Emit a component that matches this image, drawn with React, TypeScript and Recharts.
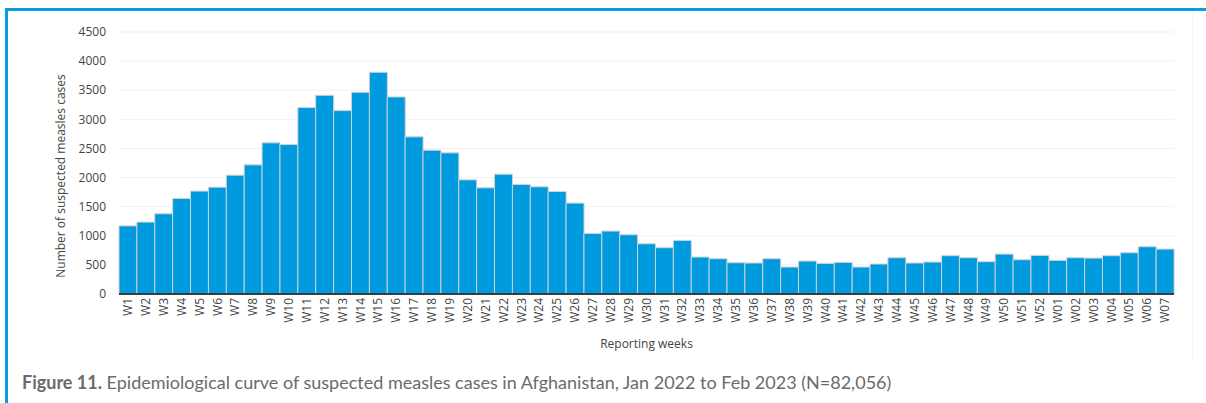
import { BarChart, Bar, XAxis, YAxis, CartesianGrid, Label } from 'recharts';

const weeks = [
  'W1', 'W2', 'W3', 'W4', 'W5', 'W6', 'W7', 'W8', 'W9', 'W10',
  'W11', 'W12', 'W13', 'W14', 'W15', 'W16', 'W17', 'W18', 'W19', 'W20',
  'W21', 'W22', 'W23', 'W24', 'W25', 'W26', 'W27', 'W28', 'W29', 'W30',
  'W31', 'W32', 'W33', 'W34', 'W35', 'W36', 'W37', 'W38', 'W39', 'W40',
  'W41', 'W42', 'W43', 'W44', 'W45', 'W46', 'W47', 'W48', 'W49', 'W50',
  'W51', 'W52', 'W01', 'W02', 'W03', 'W04', 'W05', 'W06', 'W07',
];

const cases = [
  1170, 1235, 1378, 1641, 1767, 1835, 2041, 2218, 2596, 2567,
  3202, 3413, 3150, 3465, 3808, 3385, 2699, 2470, 2424, 1961,
  1824, 2058, 1881, 1841, 1761, 1561, 1041, 1081, 1018, 863,
  795, 921, 635, 606, 537, 532, 606, 463, 566, 526,
  543, 463, 515, 623, 532, 549, 658, 623, 555, 686,
  589, 663, 577, 623, 617, 658, 709, 812, 772,
];

const yTicks = [0, 500, 1000, 1500, 2000, 2500, 3000, 3500, 4000, 4500];

const data = weeks.map((week, i) => ({ week, cases: cases[i] }));

const axisFont = '"Open Sans", sans-serif';

function WeekTick({ x, y, payload }: any) {
  return (
    <g transform={`translate(${x},${y})`}>
      <text transform="rotate(-90)" textAnchor="end" dy="0.35em" fill="#444" fontSize={12} fontFamily={axisFont}>
        {payload.value}
      </text>
    </g>
  );
}

function YTitle({ viewBox }: any) {
  const vb = viewBox || { x: 0, y: 32, width: 119, height: 262 };
  const cx = vb.x + 60;
  const cy = vb.y + vb.height / 2 + 13;
  return (
    <text
      x={cx}
      y={cy}
      transform={`rotate(-90 ${cx} ${cy})`}
      textAnchor="middle"
      dominantBaseline="central"
      fill="#444"
      fontSize={12}
      fontFamily={axisFont}
    >
      Number of suspected measles cases
    </text>
  );
}

export default function App() {
  return (
    <div style={{ position: 'absolute', left: 0, top: 0, width: 1206, height: 403, background: '#fff', overflow: 'hidden' }}>
      <div
        style={{
          position: 'absolute',
          left: 5,
          top: 8,
          right: 0,
          bottom: 0,
          borderLeft: '3px solid #0a9be0',
          borderTop: '3px solid #0a9be0',
        }}
      />
      <div style={{ position: 'absolute', left: 1192, top: 11, width: 1, height: 352, background: '#f4f4f4' }} />
      <div style={{ position: 'absolute', left: 0, top: 0 }}>
        <BarChart
          width={1206}
          height={362}
          data={data}
          margin={{ top: 32, right: 32, bottom: 0, left: 0 }}
          barCategoryGap={0}
        >
          <CartesianGrid vertical={false} stroke="#f1f1f1" />
          <XAxis
            dataKey="week"
            interval={0}
            height={68}
            tick={<WeekTick />}
            tickLine={false}
            tickSize={0}
            tickMargin={4}
            axisLine={{ stroke: '#3a3a3a', strokeWidth: 2 }}
          >
            <Label
              value="Reporting weeks"
              position="insideBottom"
              offset={14}
              fill="#444"
              fontSize={12}
              fontFamily={axisFont}
            />
          </XAxis>
          <YAxis
            width={119}
            domain={[0, 4500]}
            ticks={yTicks}
            axisLine={false}
            tickLine={false}
            tickSize={0}
            tickMargin={13}
            tick={{ fill: '#444', fontSize: 12, fontFamily: axisFont }}
          >
            <Label content={<YTitle />} />
          </YAxis>
          <Bar dataKey="cases" fill="#009bdf" stroke="#d3d3d3" strokeWidth={1} isAnimationActive={false} />
        </BarChart>
      </div>
      <div
        style={{
          position: 'absolute',
          left: 22,
          top: 371,
          fontFamily: 'Lato, sans-serif',
          fontSize: 18,
          color: '#6b6b6b',
          whiteSpace: 'nowrap',
        }}
      >
        <b>Figure 11.</b> Epidemiological curve of suspected measles cases in Afghanistan, Jan 2022 to Feb 2023 (N=82,056)
      </div>
    </div>
  );
}
